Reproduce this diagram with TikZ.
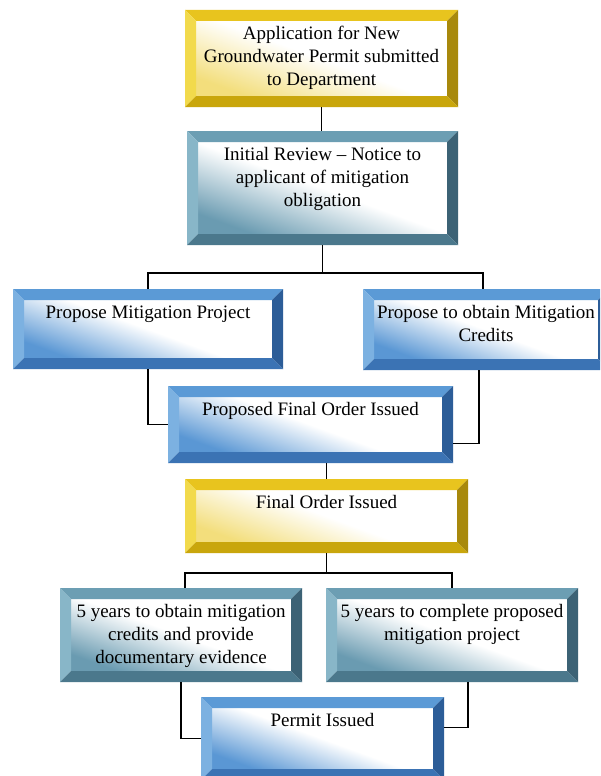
\documentclass[tikz,border=0pt]{standalone}
\usepackage{fontspec}
\setmainfont{Liberation Serif}
\usetikzlibrary{calc}

\definecolor{goldtop}{HTML}{E8C41E}
\definecolor{goldleft}{HTML}{F2DA4C}
\definecolor{goldright}{HTML}{A8890C}
\definecolor{goldbot}{HTML}{C9A60C}
\definecolor{goldface}{HTML}{F3DE7C}
\definecolor{tealtop}{HTML}{6C9EB3}
\definecolor{tealleft}{HTML}{88B6C8}
\definecolor{tealright}{HTML}{3C6275}
\definecolor{tealbot}{HTML}{4B788C}
\definecolor{tealface}{HTML}{6A9BB1}
\definecolor{bluetop}{HTML}{5B9AD6}
\definecolor{blueleft}{HTML}{7CB1E1}
\definecolor{blueright}{HTML}{2C5D98}
\definecolor{bluebot}{HTML}{3B73B4}
\definecolor{blueface}{HTML}{5A97D4}

\tikzset{
  box w/.store in=\boxw, box h/.store in=\boxh,
  bev top/.store in=\bevtop, bev left/.store in=\bevleft,
  bev right/.store in=\bevright, bev bot/.store in=\bevbot,
  bev face/.store in=\bevface,
  bevelbox/.style={inner sep=0pt, outer sep=0pt, fill=white,
    font=\fontsize{19}{23}\selectfont,
    execute at begin node={\vbox to \boxh\bgroup\hsize=\boxw\parindent=0pt\centering\vspace*{13pt}\strut\ignorespaces},
    execute at end node={\strut\par\vfil\egroup},
    path picture={
      \coordinate (pa) at (path picture bounding box.north west);
      \coordinate (pb) at (path picture bounding box.north east);
      \coordinate (pc) at (path picture bounding box.south east);
      \coordinate (pd) at (path picture bounding box.south west);
      \coordinate (qa) at ([shift={(11pt,-11pt)}]pa);
      \coordinate (qb) at ([shift={(-11pt,-11pt)}]pb);
      \coordinate (qc) at ([shift={(-11pt,11pt)}]pc);
      \coordinate (qd) at ([shift={(11pt,11pt)}]pd);
      \shade[top color=white, bottom color=\bevface, middle color=white, shading angle=-20] (qa) rectangle (qc);
      \fill[fill=\bevtop] (pa) -- (pb) -- (qb) -- (qa) -- cycle;
      \fill[fill=\bevleft] (pa) -- (qa) -- (qd) -- (pd) -- cycle;
      \fill[fill=\bevright] (pb) -- (pc) -- (qc) -- (qb) -- cycle;
      \fill[fill=\bevbot] (pd) -- (qd) -- (qc) -- (pc) -- cycle;
    }},
  goldbox/.style={bevelbox, bev top=goldtop, bev left=goldleft, bev right=goldright, bev bot=goldbot, bev face=goldface},
  tealbox/.style={bevelbox, bev top=tealtop, bev left=tealleft, bev right=tealright, bev bot=tealbot, bev face=tealface},
  bluebox/.style={bevelbox, bev top=bluetop, bev left=blueleft, bev right=blueright, bev bot=bluebot, bev face=blueface},
  link/.style={draw=black, line width=1.2pt},
}

\begin{document}
\begin{tikzpicture}[x=1pt,y=-1pt]
  \useasboundingbox (0,0) rectangle (600,776);
  \clip (0,0) rectangle (600,776);
  \fill[white] (0,0) rectangle (600,776);

  \node[goldbox, box w=273pt, box h=97pt] (app) at (321.5,58.5) {Application for New\\Groundwater Permit submitted\\to Department};
  \node[tealbox, box w=271pt, box h=114pt] (review) at (322.5,188) {Initial Review – Notice to\\applicant of mitigation\\obligation};
  \node[bluebox, box w=270pt, box h=80pt] (pmp) at (148,329) {Propose Mitigation Project};
  \node[bluebox, box w=246pt, box h=81pt] (pmc) at (486,329.5) {Propose to obtain Mitigation\\Credits};
  \node[bluebox, box w=285pt, box h=77pt] (pfo) at (310.5,424.5) {Proposed Final Order Issued};
  \node[goldbox, box w=283pt, box h=74pt] (final) at (326.5,516) {Final Order Issued};
  \node[tealbox, box w=242pt, box h=94pt] (yrs1) at (181,635) {5 years to obtain mitigation\\credits and provide\\documentary evidence};
  \node[tealbox, box w=252pt, box h=94pt] (yrs2) at (452,635) {5 years to complete proposed\\mitigation project};
  \node[bluebox, box w=243pt, box h=83pt] (permit) at (322.5,738.5) {Permit Issued};

  \coordinate (split1) at ([yshift=-28pt]review.south);
  \coordinate (split2) at ([yshift=-20pt]final.south);

  \draw[link] (app.south) -- (app.south |- review.north);
  \draw[link] (review.south) -- (split1);
  \draw[link] (pmp.north) |- (split1) -| ([xshift=-3pt]pmc.north);
  \draw[link] (pmp.south) |- (pfo.west);
  \draw[link] ([xshift=-7pt]pmc.south) |- ([yshift=-19pt]pfo.east);
  \draw[link] (pfo.south -| final.north) -- (final.north);
  \draw[link] (final.south) -- (split2);
  \draw[link] ([xshift=4pt]yrs1.north) |- (split2) -| (yrs2.north);
  \draw[link] (yrs1.south) |- (permit.west);
  \draw[link] ([xshift=16pt]yrs2.south) |- ([yshift=11pt]permit.east);
\end{tikzpicture}
\end{document}
